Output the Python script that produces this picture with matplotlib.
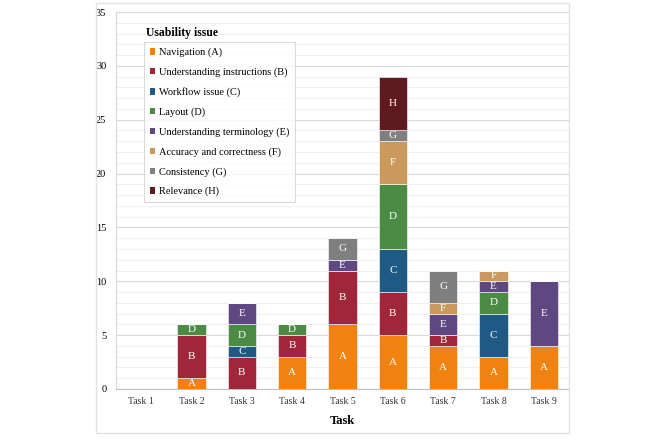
import matplotlib
matplotlib.use("Agg")
import matplotlib.pyplot as plt
import numpy as np
from matplotlib.patches import Rectangle, Patch

tasks = ["Task 1", "Task 2", "Task 3", "Task 4", "Task 5", "Task 6", "Task 7", "Task 8", "Task 9"]
issues = ["Navigation (A)", "Understanding instructions (B)", "Workflow issue (C)", "Layout (D)",
          "Understanding terminology (E)", "Accuracy and correctness (F)", "Consistency (G)", "Relevance (H)"]
letters = ["A", "B", "C", "D", "E", "F", "G", "H"]

# counts per task for each issue
nav = [0, 1, 0, 3, 6, 5, 4, 3, 4]
instr = [0, 4, 3, 2, 5, 4, 1, 0, 0]
workflow = [0, 0, 1, 0, 0, 4, 0, 4, 0]
layout = [0, 1, 2, 1, 0, 6, 0, 2, 0]
terminology = [0, 0, 2, 0, 1, 0, 2, 1, 6]
accuracy = [0, 0, 0, 0, 0, 4, 1, 1, 0]
consistency = [0, 0, 0, 0, 2, 1, 3, 0, 0]
relevance = [0, 0, 0, 0, 0, 5, 0, 0, 0]

series = [nav, instr, workflow, layout, terminology, accuracy, consistency, relevance]
colors = ["#F08212", "#A02739", "#1F5A85", "#4C8B43", "#5F4782", "#C99A5C", "#7F7F7F", "#5E1A1F"]

plt.rcParams['font.family'] = ['Liberation Serif', 'DejaVu Serif']

fig = plt.figure(figsize=(6.66, 4.42), dpi=100)
ax = fig.add_axes([116/666, 1-389/442, (569-116)/666, (389-12)/442])

# outer chart frame
fig.patches.append(Rectangle((96/666, 1-433/442), (569-96)/666, (433-3)/442,
                             transform=fig.transFigure, fill=False,
                             edgecolor="#e2e2e2", linewidth=1.0, zorder=0))

x = np.arange(len(tasks))
bottom = np.zeros(len(tasks))
for vals, col, let in zip(series, colors, letters):
    vals = np.array(vals, dtype=float)
    ax.bar(x, vals, width=0.56, bottom=bottom, color=col, edgecolor="white",
           linewidth=0.4, zorder=3)
    for xi, v, b in zip(x, vals, bottom):
        if v > 0:
            ax.text(xi, b + v/2, let, ha="center", va="center", color="white",
                    fontsize=8, zorder=4)
    bottom += vals

ax.set_xlim(-0.5, len(tasks) - 0.5)
ax.set_ylim(0, 35)
ax.set_yticks(np.arange(0, 36, 5))
ax.set_yticks(np.arange(0, 36, 1), minor=True)
ax.grid(axis="y", which="major", color="#d9d9d9", linewidth=0.8, zorder=0)
ax.grid(axis="y", which="minor", color="#f0f0f0", linewidth=0.8, zorder=0)
ax.set_xticks(x)
ax.set_xticklabels(tasks, fontsize=7)
ax.tick_params(axis="both", which="both", length=0, labelsize=7.5)
ax.tick_params(axis="x", pad=6, labelcolor="#333333", labelsize=7)
ax.tick_params(axis="y", pad=7)
for side in ["top", "right"]:
    ax.spines[side].set_visible(False)
ax.spines["left"].set_color("#d9d9d9")
ax.spines["bottom"].set_color("#bfbfbf")
ax.set_xlabel("Task", fontsize=9, fontweight="bold", labelpad=6)

handles = [Patch(facecolor=c, edgecolor="none") for c in colors]
leg = ax.legend(handles, issues, loc="upper left", bbox_to_anchor=((144-116)/453, (389-42)/377),
                fontsize=7.5, frameon=True, fancybox=False, edgecolor="#d0d0d0",
                handlelength=0.55, handleheight=0.55, handletextpad=0.3,
                labelspacing=0.98, borderpad=0.55, borderaxespad=0)
leg.get_frame().set_linewidth(0.8)
ax.text((146-116)/453, (389-33)/377, "Usability issue", transform=ax.transAxes,
        fontsize=8.5, fontweight="bold", ha="left", va="center")

fig.savefig("out.png", dpi=100)
